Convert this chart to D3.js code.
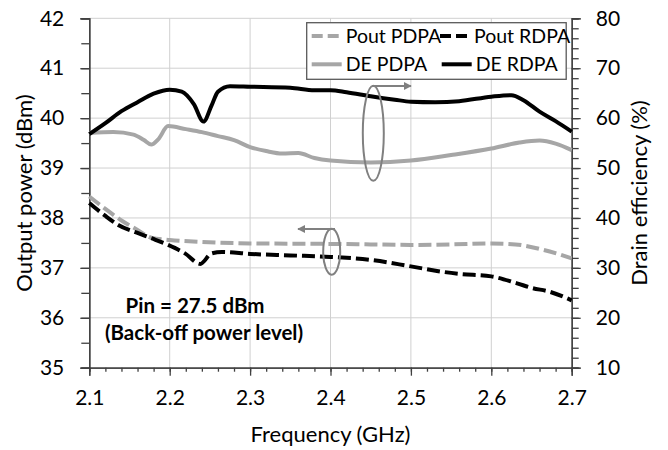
<!DOCTYPE html>
<html>
<head>
<meta charset="utf-8">
<script src="https://cdn.jsdelivr.net/npm/d3@7"></script>
<style>
  body { margin: 0; background: #fff; }
  svg { display: block; font-family: Lato, "Liberation Sans", sans-serif; }
</style>
</head>
<body>
<div id="chart"></div>
<script>
// data

const freqPoutPDPA = [2.10, 2.12, 2.14, 2.16, 2.178, 2.20, 2.24, 2.30, 2.40, 2.45, 2.50, 2.55, 2.60, 2.63, 2.665, 2.70];
const poutPDPA     = [38.43, 38.18, 37.95, 37.76, 37.60, 37.56, 37.52, 37.49, 37.48, 37.47, 37.46, 37.47, 37.49, 37.47, 37.36, 37.19];

const freqPoutRDPA = [2.10, 2.12, 2.136, 2.16, 2.178, 2.198, 2.219, 2.238, 2.252, 2.265, 2.30, 2.35, 2.40, 2.45, 2.50, 2.54, 2.56, 2.60, 2.632, 2.65, 2.673, 2.70];
const poutRDPA     = [38.30, 38.04, 37.86, 37.70, 37.59, 37.46, 37.29, 37.08, 37.29, 37.32, 37.28, 37.25, 37.22, 37.16, 37.03, 36.92, 36.88, 36.83, 36.69, 36.60, 36.52, 36.35];

const freqDEPDPA = [2.10, 2.13, 2.155, 2.168, 2.177, 2.186, 2.198, 2.22, 2.24, 2.26, 2.28, 2.30, 2.32, 2.34, 2.36, 2.38, 2.40, 2.45, 2.50, 2.55, 2.60, 2.635, 2.66, 2.68, 2.70];
const dePDPA     = [57.0, 57.2, 56.7, 55.6, 54.7, 55.8, 58.4, 57.8, 57.2, 56.4, 55.6, 54.2, 53.4, 52.9, 53.0, 52.0, 51.5, 51.1, 51.5, 52.6, 53.9, 55.1, 55.5, 54.9, 53.6];

const freqDERDPA = [2.10, 2.12, 2.14, 2.16, 2.18, 2.20, 2.215, 2.23, 2.242, 2.252, 2.26, 2.275, 2.30, 2.35, 2.38, 2.40, 2.42, 2.45, 2.48, 2.50, 2.53, 2.56, 2.60, 2.625, 2.64, 2.66, 2.68, 2.70];
const deRDPA     = [56.8, 59.0, 61.4, 63.2, 64.9, 65.7, 65.3, 62.8, 59.3, 62.5, 65.3, 66.4, 66.3, 66.1, 65.6, 65.6, 65.2, 64.4, 63.7, 63.3, 63.2, 63.4, 64.3, 64.6, 63.6, 61.3, 59.4, 57.3];

const xTicks = [2.1, 2.2, 2.3, 2.4, 2.5, 2.6, 2.7];
const leftTicks = [35, 36, 37, 38, 39, 40, 41, 42];
const rightTicks = [10, 20, 30, 40, 50, 60, 70, 80];

// config

const width = 668;
const height = 450;
const margin = { top: 18.3, right: 96.3, bottom: 82.3, left: 89.3 };
const innerW = width - margin.left - margin.right;
const innerH = height - margin.top - margin.bottom;

const gray = '#a6a6a6';
const axisColor = '#404040';

const svg = d3.select('#chart').append('svg')
  .attr('width', width)
  .attr('height', height);

const x = d3.scaleLinear().domain([2.1, 2.7]).range([margin.left, margin.left + innerW]);
const yL = d3.scaleLinear().domain([35, 42]).range([margin.top + innerH, margin.top]);
const yR = d3.scaleLinear().domain([10, 80]).range([margin.top + innerH, margin.top]);

// gridlines

svg.append('g').selectAll('line')
  .data(xTicks.slice(1, -1))
  .join('line')
  .attr('x1', d => x(d)).attr('x2', d => x(d))
  .attr('y1', margin.top).attr('y2', margin.top + innerH)
  .attr('stroke', '#d0d0d0').attr('stroke-width', 1);

svg.append('g').selectAll('line')
  .data(leftTicks.slice(1))
  .join('line')
  .attr('x1', margin.left).attr('x2', margin.left + innerW)
  .attr('y1', d => yL(d)).attr('y2', d => yL(d))
  .attr('stroke', '#d0d0d0').attr('stroke-width', 1);

// axes

const fontSize = 21;

const xMinor = d3.range(0, 31).map(i => 2.1 + i * 0.02);
const xAxisMinor = d3.axisBottom(x).tickValues(xMinor).tickSize(4).tickFormat('');
const xAxis = d3.axisBottom(x).tickValues(xTicks).tickSize(8).tickPadding(14).tickFormat(d3.format('.1f'));

const gxm = svg.append('g').attr('transform', `translate(0,${margin.top + innerH})`).call(xAxisMinor);
const gx = svg.append('g').attr('transform', `translate(0,${margin.top + innerH})`).call(xAxis);

const lMinor = d3.range(0, 15).map(i => 35 + i * 0.5);
const gym = svg.append('g').attr('transform', `translate(${margin.left},0)`)
  .call(d3.axisLeft(yL).tickValues(lMinor).tickSize(8).tickFormat(''));
const gy = svg.append('g').attr('transform', `translate(${margin.left},0)`)
  .call(d3.axisLeft(yL).tickValues(leftTicks).tickSize(9).tickPadding(16).tickFormat(d3.format('d')));

const rMinor = d3.range(0, 36).map(i => 10 + i * 2);
const grm = svg.append('g').attr('transform', `translate(${margin.left + innerW},0)`)
  .call(d3.axisRight(yR).tickValues(rMinor).tickSize(7).tickFormat(''));
const gr = svg.append('g').attr('transform', `translate(${margin.left + innerW},0)`)
  .call(d3.axisRight(yR).tickValues(rightTicks).tickSize(9).tickPadding(15).tickFormat(d3.format('d')));

[gxm, gx, gym, gy, grm, gr].forEach(g => {
  g.select('.domain').attr('stroke', axisColor).attr('stroke-width', 1.3);
  g.selectAll('.tick line').attr('stroke', axisColor).attr('stroke-width', 1.3);
  g.selectAll('.tick text')
    .attr('fill', '#000')
    .style('font-size', fontSize + 'px')
    .style('font-family', 'Lato, "Liberation Sans", sans-serif');
});

// axis titles

svg.append('text')
  .attr('x', margin.left + innerW / 2)
  .attr('y', 442)
  .attr('text-anchor', 'middle')
  .style('font-size', '22px')
  .text('Frequency  (GHz)');

svg.append('text')
  .attr('transform', `translate(32,${margin.top + innerH / 2}) rotate(-90)`)
  .attr('text-anchor', 'middle')
  .style('font-size', '22px')
  .text('Output power (dBm)');

svg.append('text')
  .attr('transform', `translate(647,${margin.top + innerH / 2}) rotate(-90)`)
  .attr('text-anchor', 'middle')
  .style('font-size', '22px')
  .text('Drain efficiency (%)');

// series

const series = [
  { name: 'Pout PDPA', f: freqPoutPDPA, v: poutPDPA, y: yL, color: gray, dash: '13,5' },
  { name: 'Pout RDPA', f: freqPoutRDPA, v: poutRDPA, y: yL, color: '#000', dash: '13,5' },
  { name: 'DE PDPA', f: freqDEPDPA, v: dePDPA, y: yR, color: gray, dash: null },
  { name: 'DE RDPA', f: freqDERDPA, v: deRDPA, y: yR, color: '#000', dash: null }
];

series.forEach(s => {
  const pts = s.f.map((f, i) => [f, s.v[i]]);
  const line = d3.line()
    .x(d => x(d[0]))
    .y(d => s.y(d[1]))
    .curve(d3.curveMonotoneX);
  svg.append('path')
    .datum(pts)
    .attr('d', line)
    .attr('fill', 'none')
    .attr('stroke', s.color)
    .attr('stroke-width', 4)
    .attr('stroke-linejoin', 'round')
    .attr('stroke-dasharray', s.dash);
});

// legend

svg.append('rect')
  .attr('x', 306.7).attr('y', 22.7)
  .attr('width', 259.5).attr('height', 56.6)
  .attr('fill', '#fff')
  .attr('stroke', '#595959')
  .attr('stroke-width', 1.3);

const legendPos = [[311.7, 36], [440, 36], [311.7, 64.3], [441.7, 64.3]];

series.forEach((s, i) => {
  const [lx, ly] = legendPos[i];
  svg.append('line')
    .attr('x1', lx).attr('x2', lx + 30)
    .attr('y1', ly).attr('y2', ly)
    .attr('stroke', s.color)
    .attr('stroke-width', 4)
    .attr('stroke-dasharray', s.dash ? '11,5' : null);
  svg.append('text')
    .attr('x', lx + 34)
    .attr('y', ly)
    .attr('dy', '0.35em')
    .style('font-size', '19.5px')
    .text(s.name);
});

// annotation

svg.append('text')
  .attr('x', 195).attr('y', 313)
  .attr('text-anchor', 'middle')
  .style('font-size', '20.5px').style('font-weight', 'bold')
  .text('Pin = 27.5 dBm');

svg.append('text')
  .attr('x', 204).attr('y', 340)
  .attr('text-anchor', 'middle')
  .style('font-size', '20.5px').style('font-weight', 'bold')
  .text('(Back-off power level)');

// ellipses with arrows

const defs = svg.append('defs');
defs.append('marker')
  .attr('id', 'arrow')
  .attr('viewBox', '0 0 10 10')
  .attr('refX', 9).attr('refY', 5)
  .attr('markerWidth', 4).attr('markerHeight', 4)
  .attr('orient', 'auto')
  .append('path')
  .attr('d', 'M0,0 L10,5 L0,10 Z')
  .attr('fill', '#808080');

svg.append('ellipse')
  .attr('cx', 373.3).attr('cy', 133.3)
  .attr('rx', 10.5).attr('ry', 47.5)
  .attr('fill', 'none').attr('stroke', '#808080').attr('stroke-width', 2);

svg.append('line')
  .attr('x1', 372).attr('y1', 86)
  .attr('x2', 411).attr('y2', 86)
  .attr('stroke', '#808080').attr('stroke-width', 2)
  .attr('marker-end', 'url(#arrow)');

svg.append('ellipse')
  .attr('cx', 331.7).attr('cy', 251.7)
  .attr('rx', 8.5).attr('ry', 23)
  .attr('fill', 'none').attr('stroke', '#808080').attr('stroke-width', 2);

svg.append('line')
  .attr('x1', 335).attr('y1', 229)
  .attr('x2', 298).attr('y2', 229)
  .attr('stroke', '#808080').attr('stroke-width', 2)
  .attr('marker-end', 'url(#arrow)');
</script>
</body>
</html>
